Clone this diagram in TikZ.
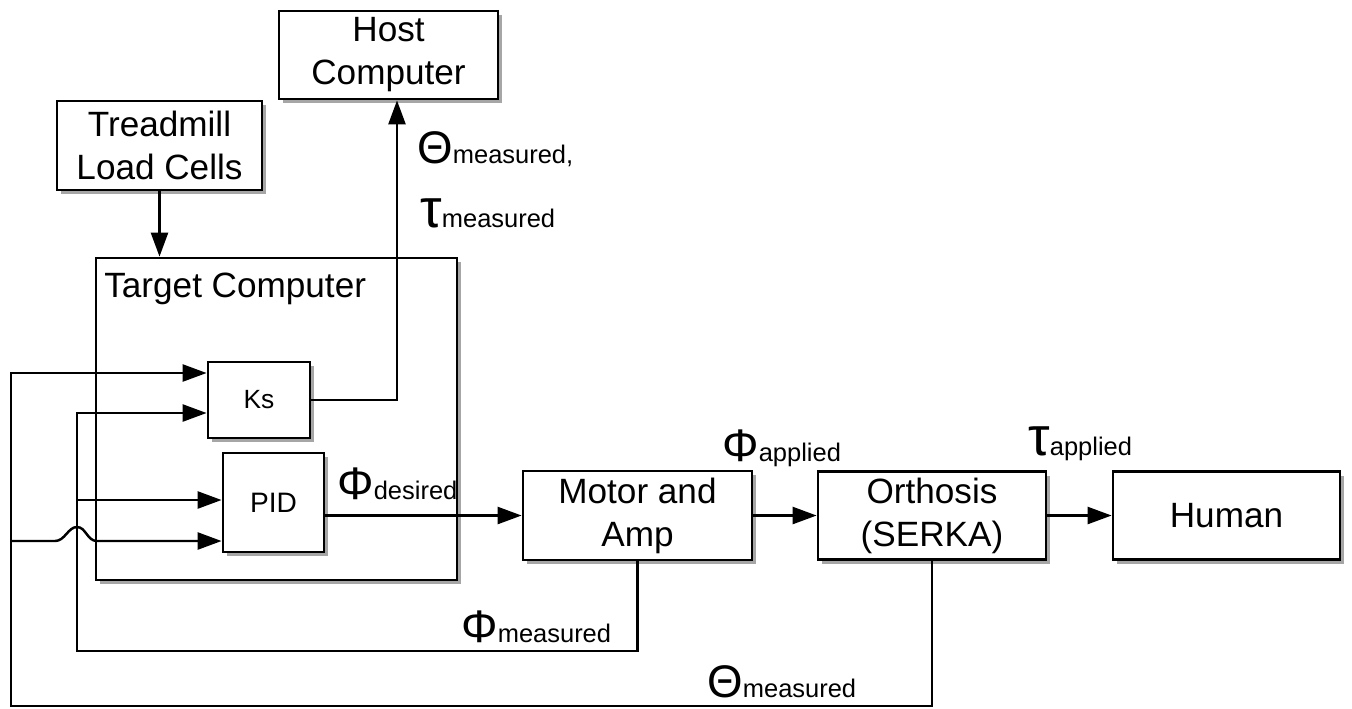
\documentclass[tikz,border=0pt]{standalone}
\usepackage{fontspec}
\setmainfont{Liberation Sans}
\usetikzlibrary{arrows.meta,calc,shadows}
\tikzset{
  blk/.style={draw, line width=1.6pt, fill=white, rectangle, inner sep=0pt, align=center,
    font=\fontsize{20}{24.5}\selectfont,
    drop shadow={shadow xshift=2.5pt, shadow yshift=-2.5pt, fill=black, opacity=0.35}},
  wire/.style={line width=1.4pt},
  arr/.style={wire, -{Triangle[length=0.48cm,width=0.34cm]}},
  sig/.style={inner sep=0pt, anchor=base west},
}
% signal name: big symbol with a small word beside it
\newcommand{\sgl}[3][26]{{\fontsize{#1}{#1}\selectfont #2}{\fontsize{14.5}{14.5}\selectfont #3}}
\begin{document}
\begin{tikzpicture}[x=0.02cm, y=-0.02cm]
  \useasboundingbox (0,0) rectangle (1352,708);
  % blocks
  \node[blk, minimum width=7.22cm, minimum height=6.44cm] (target) at (276.5,419) {};
  \node[sig, font=\fontsize{20}{24}\selectfont] (targetlbl) at (104,297) {Target Computer};
  \node[blk, minimum width=4.38cm, minimum height=1.76cm] (host) at (388.5,55) {Host\\Computer};
  \node[blk, minimum width=4.10cm, minimum height=1.78cm] (tread) at (159.5,145.5) {Treadmill\\Load Cells};
  \node[blk, minimum width=2.04cm, minimum height=1.52cm, font=\fontsize{15}{18}\selectfont] (ks) at (259,400) {Ks};
  \node[blk, minimum width=2.02cm, minimum height=1.98cm, font=\fontsize{16}{19}\selectfont] (pid) at (273.5,502.5) {PID};
  \node[blk, minimum width=4.58cm, minimum height=1.78cm] (motor) at (637.5,515.5) {Motor and\\Amp};
  \node[blk, minimum width=4.56cm, minimum height=1.76cm] (orth) at (932,515.5) {Orthosis\\(SERKA)};
  \node[blk, minimum width=4.54cm, minimum height=1.76cm] (human) at (1226.5,515.5) {Human};
  % signal labels
  \node[sig] (thmeas) at (417,163) {\sgl{Θ}{measured,}};
  \node[sig] (taumeas) at (420,227) {\sgl[31]{τ}{measured}};
  \node[sig] (phides) at (337,499) {\sgl{Φ}{desired}};
  \node[sig] (phiapp) at (722,461) {\sgl{Φ}{applied}};
  \node[sig] (tauapp) at (1028,455) {\sgl[31]{τ}{applied}};
  \node[sig] (phimeas) at (461,642) {\sgl{Φ}{measured}};
  \node[sig] (thmeasb) at (707,697) {\sgl{Θ}{measured}};
  % rails and inputs
  \coordinate (rowTh) at (0,706);
  \coordinate (rowPh) at (0,651);
  \coordinate (railO) at (11,0);
  \coordinate (railI) at (77,0);
  \coordinate (ksA) at ($(ks.west)+(0,-27)$);
  \coordinate (ksB) at ($(ks.west)+(0,13)$);
  \coordinate (pidA) at ($(pid.west)+(0,-2.5)$);
  \coordinate (pidB) at ($(pid.west)+(0,38.5)$);
  \coordinate (hostIn) at ($(host.south)+(8.5,0)$);
  % connectors
  \draw[arr] (tread.south) -- (tread.south |- target.north);
  \draw[arr] (ks.east) -| (hostIn);
  \draw[arr] (pid.east |- motor.west) -- (motor.west);
  \draw[arr] (motor.east) -- (orth.west);
  \draw[arr] (orth.east) -- (human.west);
  % feedback
  \draw[arr] (orth.south) -- (orth.south |- rowTh) -- (railO |- rowTh) -- (railO |- ksA) -- (ksA);
  \draw[arr] (motor.south) -- (motor.south |- rowPh) -- (railI |- rowPh) -- (railI |- ksB) -- (ksB);
  \draw[arr] (railI |- pidA) -- (pidA);
  \draw[arr] (railO |- pidB) -- ($(railI |- pidB)+(-22,0)$)
    .. controls +(10,0) and +(-9,0) .. ($(railI |- pidB)+(0,-14)$)
    .. controls +(9,0) and +(-10,0) .. ($(railI |- pidB)+(20,0)$) -- (pidB);
\end{tikzpicture}
\end{document}
